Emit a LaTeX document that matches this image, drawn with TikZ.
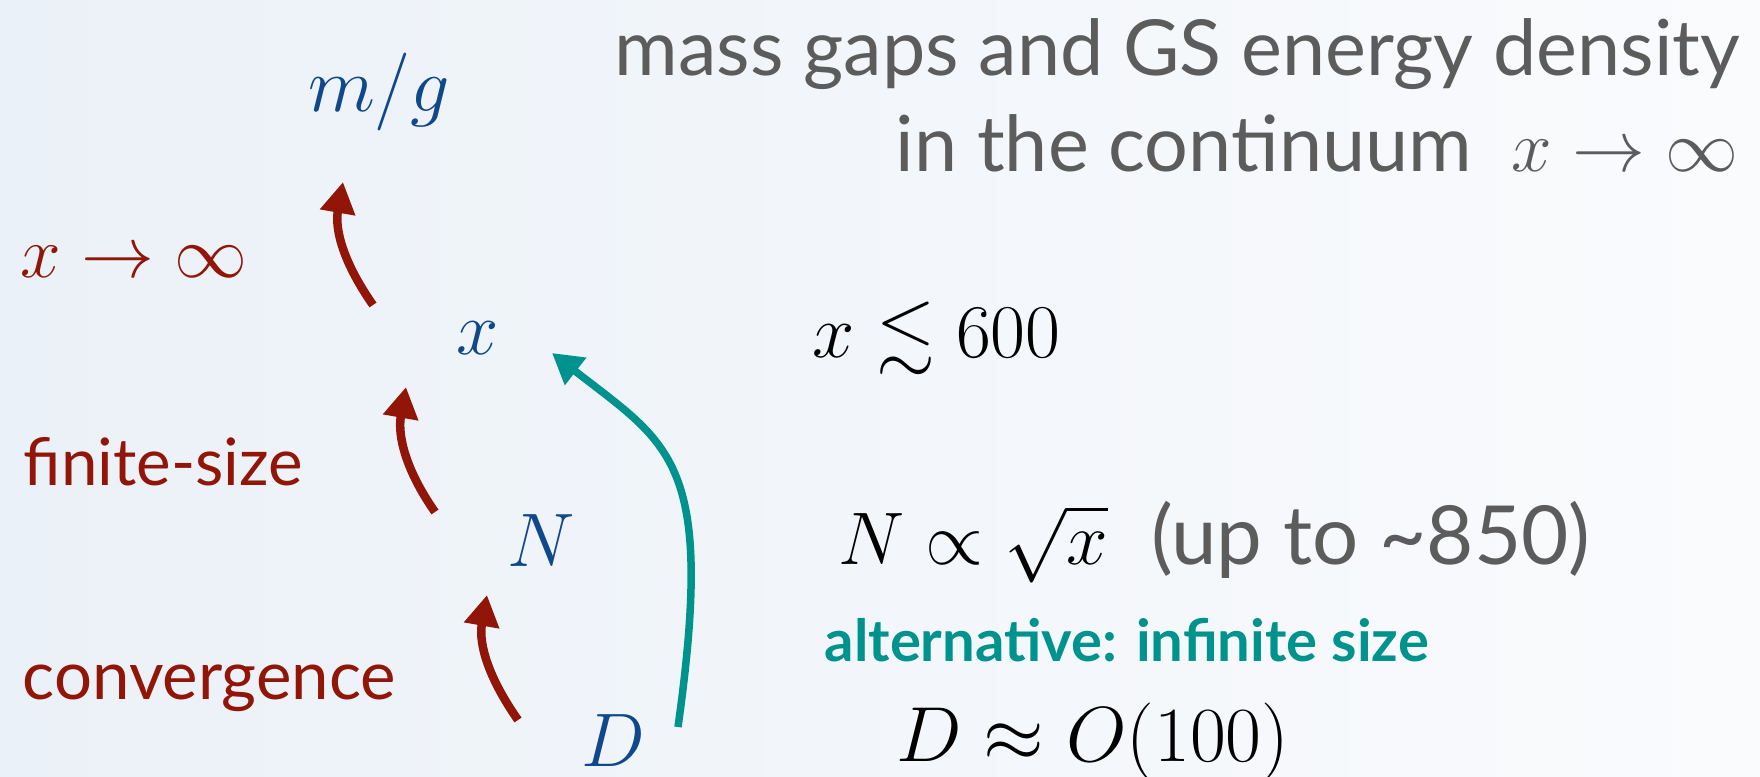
\RequirePackage{fix-cm}
\documentclass[tikz,border=0pt]{standalone}
\usepackage{amsmath,amssymb}
\usepackage{fontspec}
\setmainfont{Lato}
\usepackage{tikz}
\usetikzlibrary{arrows.meta,positioning}

\definecolor{darkred}{RGB}{145,22,8}
\definecolor{labelblue}{RGB}{16,72,140}
\definecolor{altteal}{RGB}{0,146,140}
\definecolor{titlegray}{RGB}{92,92,92}
\definecolor{bgleft}{RGB}{235,241,248}
\definecolor{bgright}{RGB}{250,251,253}

\begin{document}
\begin{tikzpicture}[
  mathlbl/.style={inner sep=0pt, anchor=base, font=\fontsize{21.6}{24}\selectfont},
  param/.style={mathlbl, text=labelblue},
  stage/.style={inner sep=0pt, anchor=base west, text=darkred, font=\fontsize{18.6}{22}\selectfont},
  title/.style={inner sep=0pt, anchor=base east, text=titlegray, font=\fontsize{22}{24}\selectfont},
  redarrow/.style={-{Triangle[length=0.31cm,width=0.34cm]}, line width=0.085cm, darkred},
  tealarrow/.style={-{Triangle[length=0.30cm,width=0.33cm]}, line width=0.075cm, altteal},
]

% Background
\shade[left color=bgleft, right color=bgright] (0,-7.77) rectangle (17.6,0);
\useasboundingbox (0,-7.77) rectangle (17.6,0);

% Parameters
\node[param, font=\fontsize{22.2}{24}\selectfont] (mg) at (3.79,-1.12) {$m/g$};
\node[param] (xL) at (4.78,-3.55) {$x$};
\node[param] (NL) at (5.41,-5.67) {$N$};
\node[param] (DL) at (6.13,-7.67) {$D$};

% Limits
\node[mathlbl, anchor=base west, text=darkred, font=\fontsize{20.74}{24}\selectfont] (xinf) at (0.20,-2.78) {$x\to\infty$};
\node[stage] (finite) at (0.23,-4.86) {finite-size};
\node[stage, font=\fontsize{19.1}{22}\selectfont] (conv) at (0.22,-7.00) {convergence};

% Title
\node[title] (head1) at (17.41,-0.76) {mass gaps and GS energy density};
\node[title] (head2) at (17.39,-1.72) {in the continuum\ \ {\fontsize{20.74}{24}\selectfont$x\to\infty$}};

% Values
\node[mathlbl, anchor=base west] (xmax) at (8.12,-3.58) {$x\lesssim 600$};
\node[mathlbl, anchor=base west, font=\fontsize{21.2}{24}\selectfont] (Nscale) at (8.38,-5.65) {$N\propto\sqrt{x}$};
\node[inner sep=0pt, text=titlegray, font=\fontsize{23.2}{26}\selectfont, base right=0.42cm of Nscale] (upto) {(up to \textasciitilde850)};
\node[inner sep=0pt, anchor=base west, text=altteal, font=\bfseries\fontsize{16.5}{20}\selectfont] (alt) at (8.24,-6.62) {alternative: infinite size};
\node[mathlbl, anchor=base west, font=\fontsize{22.2}{24}\selectfont] (Dscale) at (8.96,-7.62) {$D\approx O(100)$};

% Arrows
\draw[redarrow] ([shift={(-1.05,0.50)}]xL.base) to[out=125,in=-100] ([shift={(-0.36,-0.70)}]mg.base);
\draw[redarrow] ([shift={(-1.06,0.55)}]NL.base) to[out=125,in=-100] ([shift={(-0.72,-0.32)}]xL.base);
\draw[redarrow] ([shift={(-0.95,0.47)}]DL.base) to[out=125,in=-100] ([shift={(-0.54,-0.28)}]NL.base);
\draw[tealarrow] ([shift={(0.65,0.40)}]DL.base) .. controls +(82:2.7) and +(-38:1.5) .. ([shift={(0.74,0.02)}]xL.base);
\end{tikzpicture}
\end{document}
